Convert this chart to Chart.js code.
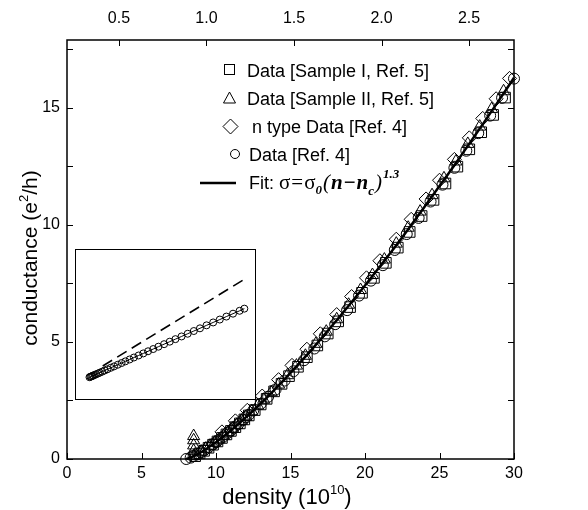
<!DOCTYPE html>
<html>
<head>
<meta charset="utf-8">
<script src="https://cdn.jsdelivr.net/npm/chart.js@4.4.0/dist/chart.umd.min.js"></script>
<style>
  body { margin: 0; background: #fff; }
  #wrap { position: relative; width: 588px; height: 510px; }
  #inset { position: absolute; left: 75px; top: 249px; width: 181px; height: 151px;
           border: 1px solid #000; box-sizing: border-box; background: #fff; }
  #inset canvas { display: block; }
</style>
</head>
<body>
<div id="wrap">
  <canvas id="main" width="588" height="510"></canvas>
  <div id="inset"><canvas id="insetChart" width="179" height="149"></canvas></div>
</div>
<script>
// axis ticks
const xTicks = [0, 5, 10, 15, 20, 25, 30];
const yTicks = [0, 5, 10, 15];
const yMinorTicks = [0, 2.5, 5, 7.5, 10, 12.5, 15, 17.5];
const topTicks = [0.5, 1.0, 1.5, 2.0, 2.5];

// Data [Sample I, Ref. 5]  (squares)
const squareX = [8.6, 8.9, 9.2, 9.5, 9.8, 10.1, 10.4, 10.7, 11.0, 11.3, 11.6, 11.9, 12.2, 12.6, 13.0, 13.4, 13.9, 14.4, 14.9, 15.5, 16.1, 16.8, 17.5, 18.2, 19.0, 19.8, 20.6, 21.4, 22.2, 23.0, 23.8, 24.6, 25.4, 26.2, 27.0, 27.8, 28.6, 29.4];
const squareY = [0.12, 0.24, 0.35, 0.48, 0.61, 0.75, 0.90, 1.05, 1.20, 1.36, 1.52, 1.69, 1.86, 2.09, 2.33, 2.57, 2.89, 3.21, 3.54, 3.94, 4.35, 4.85, 5.36, 5.88, 6.49, 7.10, 7.74, 8.38, 9.03, 9.70, 10.38, 11.07, 11.77, 12.49, 13.23, 13.96, 14.70, 15.44];

// Data [Sample II, Ref. 5]  (triangles)
const triX = [8.5, 8.5, 8.5, 8.5, 8.5, 9.0, 9.3, 9.6, 9.9, 10.2, 10.5, 10.8, 11.1, 11.4, 11.7, 12.0, 12.4, 12.8, 13.2, 13.7, 14.2, 14.8, 15.4, 16.0, 16.7, 17.4, 18.1, 18.9, 19.7, 20.5, 21.3, 22.1, 22.9, 23.7, 24.5, 25.3, 26.1, 26.9, 27.7, 28.5, 29.3];
const triY = [0.12, 0.35, 0.58, 0.80, 0.98, 0.32, 0.44, 0.57, 0.70, 0.84, 0.99, 1.14, 1.30, 1.46, 1.63, 1.80, 2.04, 2.28, 2.53, 2.85, 3.18, 3.58, 3.99, 4.41, 4.92, 5.44, 5.97, 6.59, 7.22, 7.86, 8.52, 9.20, 9.88, 10.57, 11.27, 11.99, 12.71, 13.46, 14.20, 14.95, 15.71];

// n type Data [Ref. 4]  (diamonds)
const diaX = [10.4, 11.3, 12.1, 13.1, 14.2, 15.1, 16.1, 17.0, 18.1, 19.1, 20.1, 21.0, 22.1, 23.1, 24.1, 25.0, 26.0, 27.0, 27.9, 28.8, 29.7];
const diaY = [1.16, 1.63, 2.08, 2.69, 3.39, 4.00, 4.69, 5.35, 6.17, 6.94, 7.74, 8.47, 9.39, 10.24, 11.11, 11.91, 12.80, 13.72, 14.55, 15.39, 16.26];

// Data [Ref. 4]  (circles)
const circleX = [8.0, 8.3, 8.5, 8.8, 9.0, 9.2, 9.5, 9.8, 10.0, 10.2, 10.5, 10.8, 11.0, 11.2, 11.5, 11.8, 12.0, 12.2, 12.5, 13.0, 13.5, 14.0, 14.6, 15.2, 15.9, 16.6, 17.3, 18.0, 18.8, 19.6, 20.4, 21.2, 22.0, 22.8, 23.6, 24.4, 25.2, 26.0, 26.8, 27.6, 28.4, 29.2, 30.0];
const circleY = [0.0, 0.06, 0.12, 0.22, 0.29, 0.37, 0.50, 0.63, 0.72, 0.82, 0.96, 1.12, 1.22, 1.33, 1.49, 1.66, 1.78, 1.89, 2.07, 2.36, 2.66, 2.97, 3.35, 3.75, 4.22, 4.72, 5.24, 5.76, 6.36, 6.98, 7.62, 8.28, 8.93, 9.61, 10.30, 11.00, 11.72, 12.44, 13.17, 13.92, 14.67, 15.43, 16.25];

// Fit line
const fitX = [8.0, 8.5, 9, 9.5, 10, 11, 12, 13, 14, 15, 16, 17, 18, 19, 20, 21, 22, 23, 24, 25, 26, 27, 28, 29, 30];
const fitY = [0, 0.12, 0.29, 0.50, 0.72, 1.22, 1.78, 2.37, 3.01, 3.68, 4.37, 5.10, 5.85, 6.62, 7.41, 8.22, 9.05, 9.90, 10.78, 11.66, 12.55, 13.47, 14.39, 15.33, 16.29];

// inset (no axes shown)
const insetCircX = [10, 11, 12, 13, 14, 15.5, 17, 19, 21, 23.5, 26, 29, 32.5, 36, 40, 44, 48, 52.5, 57, 62, 67, 72, 77.5, 83, 89, 95, 101, 107.5, 114, 120.5, 127, 134, 141, 148, 155, 162, 169, 174];
const insetCircY = [18, 18.5, 18.9, 19.3, 19.8, 20.5, 21.1, 22.0, 22.9, 24.0, 25.2, 26.5, 28.1, 29.6, 31.4, 33.2, 35.0, 37.0, 39.1, 41.3, 43.5, 45.8, 48.2, 50.7, 53.4, 56.1, 58.8, 61.7, 64.6, 67.5, 70.4, 73.6, 76.7, 79.8, 83.0, 86.1, 89.2, 91.5];
const insetDashX = [24, 174];
const insetDashY = [30, 123];

const pts = (xs, ys) => xs.map((x, i) => ({ x: x, y: ys[i] }));

const SANS = "'Liberation Sans', Arial, sans-serif";
const SERIF = "'Liberation Serif', 'Times New Roman', serif";

Chart.defaults.font.family = SANS;
Chart.defaults.color = "#000";

// frame, inward ticks on all four sides, axis titles with superscripts
const frameTicks = {
  id: "frameTicks",
  afterDraw(chart) {
    const { ctx, chartArea: a, scales } = chart;
    ctx.save();
    ctx.strokeStyle = "#000";
    ctx.fillStyle = "#000";
    ctx.lineWidth = 1;
    const line = (x1, y1, x2, y2) => { ctx.beginPath(); ctx.moveTo(x1, y1); ctx.lineTo(x2, y2); ctx.stroke(); };
    yMinorTicks.forEach((v) => {
      const py = Math.round(scales.y.getPixelForValue(v)) + 0.5;
      line(a.left, py, a.left + 6, py);
      line(a.right, py, a.right - 6, py);
    });
    xTicks.forEach((v) => {
      const px = Math.round(scales.x.getPixelForValue(v)) + 0.5;
      line(px, a.bottom, px, a.bottom - 6);
    });
    topTicks.forEach((v) => {
      const px = Math.round(scales.x2.getPixelForValue(v)) + 0.5;
      line(px, a.top, px, a.top + 6);
    });
    ctx.lineWidth = 1.5;
    ctx.strokeRect(a.left, a.top, a.right - a.left, a.bottom - a.top);

    // axis titles: [text, font, raise]
    const drawRich = (parts, cx, base) => {
      let w = 0;
      parts.forEach((p) => { ctx.font = p[1]; w += ctx.measureText(p[0]).width; });
      let x = cx - w / 2;
      parts.forEach((p) => { ctx.font = p[1]; ctx.fillText(p[0], x, base - p[2]); x += ctx.measureText(p[0]).width; });
    };
    ctx.textBaseline = "alphabetic";
    drawRich([["density (10", "22px " + SANS, 0], ["10", "13px " + SANS, 10], [")", "22px " + SANS, 0]], 287, 504);
    ctx.translate(37, 258);
    ctx.rotate(-Math.PI / 2);
    drawRich([["conductance (e", "21px " + SANS, 0], ["2", "13px " + SANS, 9], ["/h)", "21px " + SANS, 0]], 0, 0);
    ctx.restore();
  },
};

// legend with the formula
const legendBox = {
  id: "legendBox",
  afterDraw(chart) {
    const ctx = chart.ctx;
    ctx.save();
    ctx.strokeStyle = "#000";
    ctx.fillStyle = "#000";
    ctx.lineWidth = 1;
    ctx.textBaseline = "alphabetic";
    ctx.font = "18px " + SANS;

    // square
    ctx.strokeRect(224.5, 64.5, 10, 10);
    ctx.fillText("Data [Sample I, Ref. 5]", 247, 77);
    // triangle
    ctx.beginPath();
    ctx.moveTo(229.5, 92); ctx.lineTo(235.5, 103); ctx.lineTo(223.5, 103); ctx.closePath(); ctx.stroke();
    ctx.fillText("Data [Sample II, Ref. 5]", 247, 105);
    // diamond
    ctx.beginPath();
    ctx.moveTo(230.5, 119); ctx.lineTo(238, 126.5); ctx.lineTo(230.5, 134); ctx.lineTo(223, 126.5); ctx.closePath(); ctx.stroke();
    ctx.fillText("n type Data [Ref. 4]", 252, 133);
    // circle
    ctx.beginPath();
    ctx.arc(235, 154, 4.5, 0, Math.PI * 2); ctx.stroke();
    ctx.fillText("Data [Ref. 4]", 249, 161);
    // fit line
    ctx.lineWidth = 2.5;
    ctx.beginPath(); ctx.moveTo(200, 183); ctx.lineTo(236, 183); ctx.stroke();

    let x = 249;
    const base = 189;
    const put = (txt, font, dy, gap) => { ctx.font = font; ctx.fillText(txt, x, base + dy); x += ctx.measureText(txt).width + (gap || 0); };
    put("Fit: ", "18px " + SANS, 0);
    put("\u03c3", "21px " + SERIF, 0, 1);
    put("=", "21px " + SERIF, 0, 1);
    put("\u03c3", "21px " + SERIF, 0);
    put("0", "italic bold 13px " + SERIF, 5, 1);
    put("(", "italic 21px " + SERIF, 0, 1);
    put("n", "italic bold 21px " + SERIF, 0, 1);
    put("\u2212", "bold 21px " + SERIF, 0, 1);
    put("n", "italic bold 21px " + SERIF, 0);
    put("c", "italic bold 13px " + SERIF, 6, 1);
    put(")", "italic 21px " + SERIF, 0, 1);
    put("1.3", "italic bold 13px " + SERIF, -11);
    ctx.restore();
  },
};

const markerBase = {
  borderColor: "#000",
  backgroundColor: "rgba(0,0,0,0)",
  borderWidth: 1,
  showLine: false,
  clip: false,
};

new Chart(document.getElementById("main"), {
  type: "scatter",
  data: {
    datasets: [
      { ...markerBase, label: "Data [Sample I, Ref. 5]", data: pts(squareX, squareY), pointStyle: "rect", pointRadius: 7.5 },
      { ...markerBase, label: "Data [Sample II, Ref. 5]", data: pts(triX, triY), pointStyle: "triangle", pointRadius: 7 },
      { ...markerBase, label: "n type Data [Ref. 4]", data: pts(diaX, diaY), pointStyle: "rectRot", pointRadius: 7 },
      { ...markerBase, label: "Data [Ref. 4]", data: pts(circleX, circleY), pointStyle: "circle", pointRadius: 5.5 },
      {
        label: "Fit",
        data: pts(fitX, fitY),
        showLine: true,
        pointRadius: 0,
        borderColor: "#000",
        borderWidth: 2.5,
        cubicInterpolationMode: "monotone",
        clip: false,
      },
    ],
  },
  options: {
    responsive: false,
    animation: false,
    events: [],
    layout: { padding: { left: 0, top: 0, right: 74, bottom: 0 } },
    plugins: { legend: { display: false }, tooltip: { enabled: false } },
    scales: {
      x: {
        type: "linear",
        position: "bottom",
        min: 0,
        max: 30,
        afterFit(s) { s.height = 51; },
        afterBuildTicks(s) { s.ticks = xTicks.map((v) => ({ value: v })); },
        grid: { display: false, drawTicks: false },
        border: { display: false },
        ticks: { font: { size: 16 }, color: "#000", padding: 5, maxRotation: 0, autoSkip: false },
      },
      x2: {
        type: "linear",
        position: "top",
        min: 0.203,
        max: 2.757,
        afterFit(s) { s.height = 40; },
        afterBuildTicks(s) { s.ticks = topTicks.map((v) => ({ value: v })); },
        grid: { display: false, drawTicks: false },
        border: { display: false },
        ticks: { font: { size: 16 }, color: "#000", padding: 12, maxRotation: 0, autoSkip: false, callback: (v) => Number(v).toFixed(1) },
      },
      y: {
        type: "linear",
        position: "left",
        min: 0,
        max: 17.9,
        afterFit(s) { s.width = 67; },
        afterBuildTicks(s) { s.ticks = yTicks.map((v) => ({ value: v })); },
        grid: { display: false, drawTicks: false },
        border: { display: false },
        ticks: { font: { size: 16 }, color: "#000", padding: 7, autoSkip: false },
      },
    },
  },
  plugins: [frameTicks, legendBox],
});

// inset
new Chart(document.getElementById("insetChart"), {
  type: "scatter",
  data: {
    datasets: [
      {
        label: "inset data",
        data: pts(insetCircX, insetCircY),
        showLine: true,
        borderColor: "#000",
        borderWidth: 1,
        backgroundColor: "rgba(0,0,0,0)",
        pointStyle: "circle",
        pointRadius: 3.5,
        pointBorderWidth: 1,
        clip: false,
      },
      {
        label: "inset dashed",
        data: pts(insetDashX, insetDashY),
        showLine: true,
        borderColor: "#000",
        borderWidth: 1.6,
        borderDash: [11, 6],
        pointRadius: 0,
        clip: false,
      },
    ],
  },
  options: {
    responsive: false,
    animation: false,
    events: [],
    layout: { padding: 0 },
    plugins: { legend: { display: false }, tooltip: { enabled: false } },
    scales: {
      x: { type: "linear", min: 1, max: 180, display: false },
      y: { type: "linear", min: 0, max: 149, display: false },
    },
  },
});
</script>
</body>
</html>
